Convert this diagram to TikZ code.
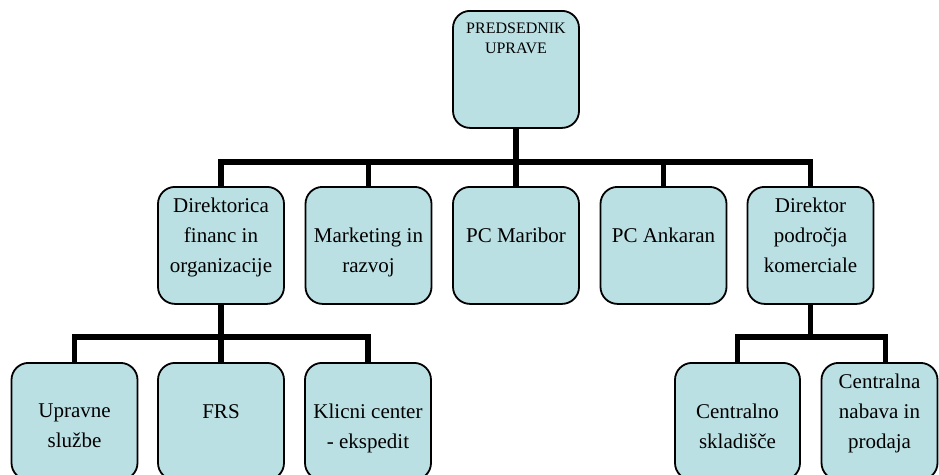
\documentclass[tikz,border=0pt]{standalone}
\usepackage{fontspec}
\setmainfont{Liberation Serif}
\definecolor{boxfill}{RGB}{187,224,227}
\begin{document}
\begin{tikzpicture}[x=1pt,y=-1pt,
  unit/.style={draw=black, line width=1.8pt, fill=boxfill, rounded corners=17pt,
    minimum width=126pt, minimum height=117pt, inner sep=0pt, anchor=north},
  lbl/.style={font=\fontsize{21}{30}\selectfont, align=center, anchor=base, inner sep=0pt},
  toplbl/.style={font=\fontsize{16}{20}\selectfont, align=center, anchor=base, inner sep=0pt},
  link/.style={line width=5.5pt, line join=miter}
]
\useasboundingbox (0,0) rectangle (939,474);
\clip (0,0) rectangle (939,474);

% head of the board
\node[unit] (pres) at (516,10) {};

% directors and centres
\node[unit] (dfo) at (221,186) {};
\node[unit] (mkt) at (368.5,186) {};
\node[unit] (mb)  at (516,186) {};
\node[unit] (ank) at (663.5,186) {};
\node[unit] (dir) at (810.5,186) {};

% services under the finance director
\node[unit] (ups) at (74.5,362) {};
\node[unit] (frs) at (221,362) {};
\node[unit] (klc) at (368,362) {};

% units under the commercial director
\node[unit, minimum width=125pt] (skl) at (737.5,362) {};
\node[unit, minimum width=116pt] (nab) at (879.5,362) {};

% connectors: head to directors
\draw[link] (dfo.north) -- ++(0,-24) -| (dir.north);
\draw[link] (pres.south) -- (pres.south |- 0,162);
\draw[link] (mkt.north) -- (mkt.north |- 0,162);
\draw[link] (mb.north) -- (mb.north |- 0,162);
\draw[link] (ank.north) -- (ank.north |- 0,162);

% connectors: finance director to services
\draw[link] (ups.north) -- ++(0,-25) -| (klc.north);
\draw[link] (dfo.south) -- (frs.north);

% connectors: commercial director to its units
\draw[link] (skl.north) -- ++(0,-25) -| ([xshift=6pt]nab.north);
\draw[link] (dir.south) -- (dir.south |- 0,337);

% labels (anchored at the baseline of the last line)
\node[toplbl] (presT) at (516,53) {PREDSEDNIK\\UPRAVE};
\node[lbl] (dfoT) at (221,272) {Direktorica\\financ in\\organizacije};
\node[lbl] (mktT) at (368.5,272) {Marketing in\\razvoj};
\node[lbl] (mbT)  at (516,242) {PC Maribor};
\node[lbl] (ankT) at (663.5,242) {PC Ankaran};
\node[lbl] (dirT) at (810.5,272) {Direktor\\področja\\komerciale};
\node[lbl] (upsT) at (74.5,447) {Upravne\\službe};
\node[lbl] (frsT) at (221,418) {FRS};
\node[lbl] (klcT) at (368,448) {Klicni center\\- ekspedit};
\node[lbl] (sklT) at (737.5,448) {Centralno\\skladišče};
\node[lbl] (nabT) at (879.5,448) {Centralna\\nabava in\\prodaja};
\end{tikzpicture}
\end{document}
